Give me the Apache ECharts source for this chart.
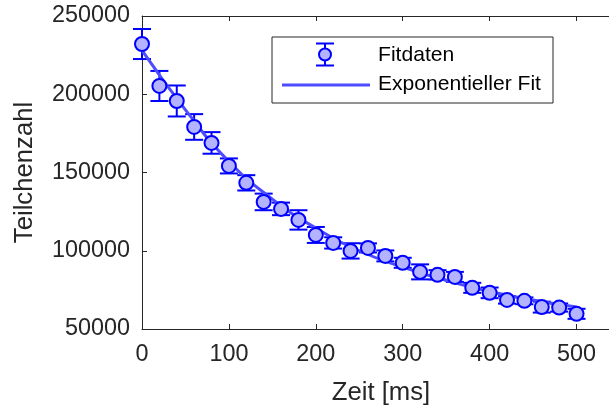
<!DOCTYPE html>
<html>
<head>
<meta charset="utf-8">
<script src="https://cdn.jsdelivr.net/npm/echarts@6/dist/echarts.min.js"></script>
<style>
html,body{margin:0;padding:0;background:#fff;}
#c{width:609px;height:406px;}
</style>
</head>
<body>
<div id="c"></div>
<script>
// Measured data (time in ms, particle counts)
var times = [0,20,40,60,80,100,120,140,160,180,200,220,240,260,280,300,320,340,360,380,400,420,440,460,480,500];
var counts = [232100,205300,195700,179100,168900,154200,143400,131200,126750,119700,110100,105000,99900,101800,96700,92300,86500,84600,83300,76300,73100,68600,68000,64000,63700,59700];
var errors = [9600,9600,9900,8200,6900,4800,4900,5300,4000,6200,5100,3600,4900,2900,3500,3200,4800,3000,3200,3200,3400,2400,2200,3500,2600,3200];
// Fit curve
var fitTimes = [0,50,100,150,200,250,300,350,400,450,500];
var fitValues = [228000,190000,157000,133000,114500,100000,89500,81000,74000,68500,64000];
var xTicks = [0,100,200,300,400,500];
var yTicks = [50000,100000,150000,200000,250000];

var axisColor = '#262626';
var font = 'Liberation Sans, Arial, Helvetica, sans-serif';
var blue = '#0000ff';
var fitColor = '#4d4dff';
var faceColor = '#b3b3ff';

var pts = times.map(function(t,i){return [t, counts[i]];});
var errData = times.map(function(t,i){return [t, counts[i]-errors[i], counts[i]+errors[i]];});
var fitData = fitTimes.map(function(t,i){return [t, fitValues[i]];});

var chart = echarts.init(document.getElementById('c'), null, {renderer:'canvas'});
var option = {
  animation:false,
  backgroundColor:'#fff',
  grid:{left:142, top:16, width:478, height:313, containLabel:false, outerBoundsMode:'none'},
  xAxis:[{
    type:'value', min:0, max:550, interval:100, position:'bottom',
    name:'Zeit [ms]', nameLocation:'middle', nameGap:51,
    nameTextStyle:{fontFamily:font, fontSize:25.7, color:axisColor},
    axisLine:{show:true, lineStyle:{color:axisColor, width:1}},
    axisTick:{show:true, inside:true, length:5, customValues:xTicks, lineStyle:{color:axisColor}},
    axisLabel:{fontFamily:font, fontSize:23.4, color:axisColor, margin:14, customValues:xTicks,
      formatter:function(v){return String(Math.round(v));}},
    splitLine:{show:false}
  },{
    type:'value', min:0, max:550, interval:100, position:'top',
    axisLine:{show:true, lineStyle:{color:axisColor, width:1}},
    axisTick:{show:true, inside:true, length:5, customValues:xTicks, lineStyle:{color:axisColor}},
    axisLabel:{show:false}, splitLine:{show:false}
  }],
  yAxis:[{
    type:'value', min:50000, max:250000, interval:50000,
    name:'Teilchenzahl', nameLocation:'middle', nameGap:104, nameRotate:90,
    nameTextStyle:{fontFamily:font, fontSize:25.7, color:axisColor},
    axisLine:{show:true, lineStyle:{color:axisColor, width:1}},
    axisTick:{show:true, inside:true, length:5, lineStyle:{color:axisColor}},
    axisLabel:{fontFamily:font, fontSize:23.4, color:axisColor, margin:12,
      formatter:function(v){return yTicks.indexOf(v)>=0? String(v):'';}},
    splitLine:{show:false}
  }],
  series:[
    {
      type:'custom', name:'Fehler', xAxisIndex:0, yAxisIndex:0, z:2,
      data:errData,
      renderItem:function(params, api){
        var x = api.value(0);
        var lo = api.coord([x, api.value(1)]);
        var hi = api.coord([x, api.value(2)]);
        var hw = 9;
        var st = {stroke:blue, lineWidth:2, fill:null};
        return {type:'group', children:[
          {type:'line', shape:{x1:lo[0], y1:lo[1], x2:hi[0], y2:hi[1]}, style:st},
          {type:'line', shape:{x1:lo[0]-hw, y1:lo[1], x2:lo[0]+hw, y2:lo[1]}, style:st},
          {type:'line', shape:{x1:hi[0]-hw, y1:hi[1], x2:hi[0]+hw, y2:hi[1]}, style:st}
        ]};
      }
    },
    {
      type:'line', name:'Exponentieller Fit', data:fitData, smooth:0.5, z:3,
      showSymbol:false, symbol:'none',
      lineStyle:{color:fitColor, width:3}
    },
    {
      type:'scatter', name:'Fitdaten', data:pts, z:4,
      symbol:'circle', symbolSize:14,
      itemStyle:{color:faceColor, borderColor:blue, borderWidth:2, opacity:1}
    }
  ],
  graphic:[
    {type:'rect', shape:{x:272, y:37, width:281, height:66}, style:{fill:'#fff', stroke:axisColor, lineWidth:1}, z:10},
    {type:'line', shape:{x1:325, y1:43.5, x2:325, y2:65.5}, style:{stroke:blue, lineWidth:2}, z:11},
    {type:'line', shape:{x1:316, y1:43.5, x2:334, y2:43.5}, style:{stroke:blue, lineWidth:2}, z:11},
    {type:'line', shape:{x1:316, y1:65.5, x2:334, y2:65.5}, style:{stroke:blue, lineWidth:2}, z:11},
    {type:'circle', shape:{cx:325, cy:54.5, r:6}, style:{fill:faceColor, stroke:blue, lineWidth:2}, z:12},
    {type:'line', shape:{x1:282, y1:85, x2:370, y2:85}, style:{stroke:fitColor, lineWidth:3}, z:11},
    {type:'text', x:378, y:55.5, style:{text:'Fitdaten', font:'21.1px ' + font, fill:'#000', verticalAlign:'middle', align:'left'}, z:12},
    {type:'text', x:378, y:84.5, style:{text:'Exponentieller Fit', font:'21.1px ' + font, fill:'#000', verticalAlign:'middle', align:'left'}, z:12}
  ]
};
chart.setOption(option);
</script>
</body>
</html>
